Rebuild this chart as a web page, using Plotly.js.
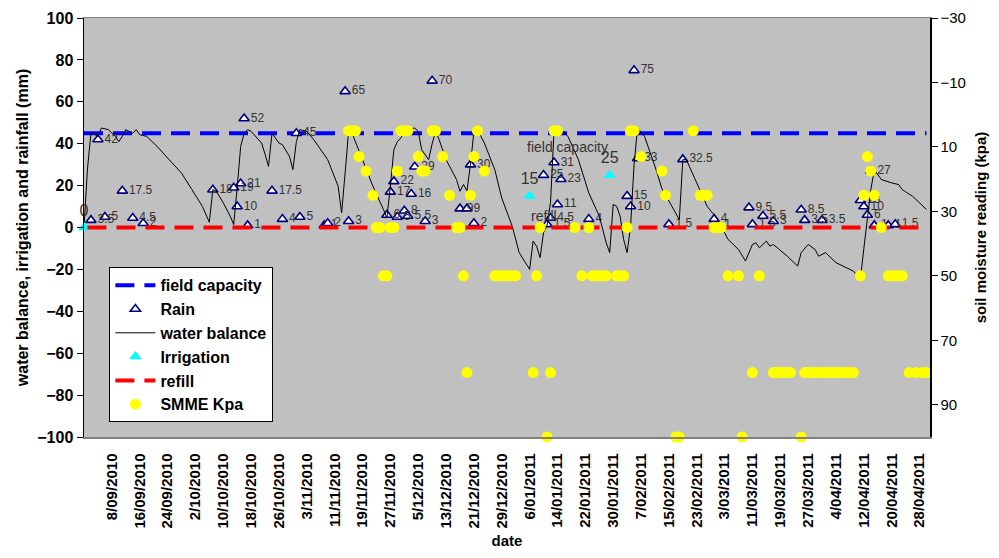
<!DOCTYPE html>
<html>
<head>
<meta charset="utf-8">
<script src="https://cdn.plot.ly/plotly-3.0.1.min.js"></script>
<style>
html,body{margin:0;padding:0;background:#fff;}
#chart{width:999px;height:558px;}
</style>
</head>
<body>
<div id="chart"></div>
<script>
// ---------- data ----------
const fieldCapacityDates = ['2010-08-31', '2011-04-30'];
const fieldCapacityValues = [45, 45];
const refillDates = ['2010-09-01', '2011-04-30'];
const refillValues = [0, 0];

const tickDates = [
  '2010-09-08','2010-09-16','2010-09-24','2010-10-02','2010-10-10','2010-10-18',
  '2010-10-26','2010-11-03','2010-11-11','2010-11-19','2010-11-27','2010-12-05',
  '2010-12-13','2010-12-21','2010-12-29','2011-01-06','2011-01-14','2011-01-22',
  '2011-01-30','2011-02-07','2011-02-15','2011-02-23','2011-03-03','2011-03-11',
  '2011-03-19','2011-03-27','2011-04-04','2011-04-12','2011-04-20','2011-04-28'
];
const tickLabels = [
  '8/09/2010','16/09/2010','24/09/2010','2/10/2010','10/10/2010','18/10/2010',
  '26/10/2010','3/11/2010','11/11/2010','19/11/2010','27/11/2010','5/12/2010',
  '13/12/2010','21/12/2010','29/12/2010','6/01/2011','14/01/2011','22/01/2011',
  '30/01/2011','7/02/2011','15/02/2011','23/02/2011','3/03/2011','11/03/2011',
  '19/03/2011','27/03/2011','4/04/2011','12/04/2011','20/04/2011','28/04/2011'
];

const rainDates = [
  '2010-09-02','2010-09-04','2010-09-06','2010-09-11','2010-09-14','2010-09-17',
  '2010-10-07','2010-10-13','2010-10-14','2010-10-15','2010-10-16','2010-10-17',
  '2010-10-24','2010-10-27','2010-10-31','2010-11-01','2010-11-08','2010-11-09',
  '2010-11-14','2010-11-15','2010-11-26','2010-11-27','2010-11-28','2010-11-29',
  '2010-12-01','2010-12-02','2010-12-03','2010-12-04','2010-12-07','2010-12-09',
  '2010-12-17','2010-12-19','2010-12-20','2010-12-21',
  '2011-01-10','2011-01-11','2011-01-12','2011-01-13','2011-01-14','2011-01-15',
  '2011-01-23','2011-02-03','2011-02-04','2011-02-05','2011-02-06','2011-02-15',
  '2011-02-19','2011-02-28','2011-03-01','2011-03-10','2011-03-11','2011-03-14',
  '2011-03-17','2011-03-25','2011-03-26','2011-03-31','2011-04-11','2011-04-12',
  '2011-04-13','2011-04-14','2011-04-15','2011-04-19','2011-04-21'
];
const rainValues = [
  3.5, 42, 5, 17.5, 4.5, 2,
  18, 19, 10, 21, 52, 1,
  17.5, 4, 45, 5, 1, 2,
  65, 3, 6, 17, 22, 5,
  8, 5.5, 16, 29, 3, 70,
  9, 9, 30, 2,
  25, 1.5, 4.5, 31, 11, 23,
  4, 15, 10, 75, 33, 1.5,
  32.5, 4, 1, 9.5, 1.5, 5.5,
  3, 8.5, 3.5, 3.5, 13, 10,
  6, 27, 1, 1, 1.5
];

const balanceDates = [
  '2010-08-31','2010-09-01','2010-09-02','2010-09-03','2010-09-04','2010-09-05','2010-09-07',
  '2010-09-09','2010-09-10','2010-09-11','2010-09-12','2010-09-13','2010-09-14','2010-09-15',
  '2010-09-16','2010-09-18','2010-09-21','2010-09-24','2010-09-28','2010-10-01','2010-10-04',
  '2010-10-06','2010-10-07','2010-10-08','2010-10-10','2010-10-12','2010-10-13','2010-10-14',
  '2010-10-15','2010-10-16','2010-10-17','2010-10-18','2010-10-21','2010-10-22','2010-10-23',
  '2010-10-24','2010-10-26','2010-10-27','2010-10-29','2010-10-30','2010-10-31','2010-11-01',
  '2010-11-03','2010-11-05','2010-11-09','2010-11-12','2010-11-13','2010-11-14','2010-11-15',
  '2010-11-16','2010-11-19','2010-11-22','2010-11-25','2010-11-26','2010-11-27','2010-11-28',
  '2010-11-29','2010-11-30','2010-12-01','2010-12-04','2010-12-05','2010-12-06','2010-12-08',
  '2010-12-09','2010-12-10','2010-12-11','2010-12-13','2010-12-16','2010-12-17','2010-12-18',
  '2010-12-19','2010-12-20','2010-12-21','2010-12-22','2010-12-24','2010-12-27','2010-12-29',
  '2011-01-01','2011-01-03','2011-01-06','2011-01-07','2011-01-08','2011-01-09','2011-01-10',
  '2011-01-11','2011-01-12','2011-01-13','2011-01-15','2011-01-17','2011-01-20','2011-01-23',
  '2011-01-26','2011-01-28','2011-01-29','2011-01-30','2011-01-31','2011-02-01','2011-02-02',
  '2011-02-03','2011-02-04','2011-02-05','2011-02-06','2011-02-08','2011-02-11','2011-02-13',
  '2011-02-16','2011-02-18','2011-02-19','2011-02-20','2011-02-23','2011-02-26','2011-03-01',
  '2011-03-03','2011-03-04','2011-03-07','2011-03-09','2011-03-11','2011-03-12','2011-03-13',
  '2011-03-15','2011-03-16','2011-03-17','2011-03-21','2011-03-24','2011-03-25','2011-03-27',
  '2011-03-29','2011-03-30','2011-04-01','2011-04-04','2011-04-09','2011-04-11','2011-04-12',
  '2011-04-13','2011-04-14','2011-04-15','2011-04-17','2011-04-20','2011-04-22','2011-04-23',
  '2011-04-26','2011-04-30'
];
const balanceValues = [
  0, 28, 45, 44.5, 43.5, 47.5, 46.7,
  43.5, 41, 43.5, 46.7, 45.9, 45, 46.7,
  44.3, 43.5, 38.7, 33.2, 26, 18.1, 10.1,
  2.5, 18.1, 17.3, 11.8, 5.4, 1.4, 19,
  38.7, 45, 46.7, 45.9, 40.3, 35, 29.2,
  45, 40.3, 39.5, 34, 27.6, 41, 46.7,
  45.9, 41.9, 32.4, 19.7, 7, 26, 45.9,
  45, 32.4, 19.7, 8.6, 4.6, 19.7, 37.1,
  41, 42.7, 45.9, 47.5, 45.9, 37.1, 32.4,
  40, 45.9, 41.9, 32.4, 22.9, 17.3, 20.5,
  17.5, 30, 45.9, 46.7, 40.3, 27.6, 14,
  0.6, -12, -20, -6.5, -8.9, -14.4, -2.5,
  1, 12, 45.9, 46.7, 43.5, 32.4, 16.5,
  5.4, -7.3, -12, 11, 10.1, 5.4, -5.7,
  -12, 0.6, 30, 47.5, 43.5, 29.2, 18.5,
  10.1, 3.8, 32.4, 32.4, 21.3, 10.1, 3.8,
  -2.5, -5.7, -10.5, -16, -8.1, -7.3, -9.7,
  -6.5, -8.9, -8.1, -13.7, -18.4, -12, -8.1,
  -10.5, -13.7, -12, -16.8, -20.8, -24.8, -10,
  3, 18, 27.6, 22.9, 21.3, 20.5, 18.1,
  14.9, 8.6
];

const irrigationDates = ['2010-08-31', '2011-01-06', '2011-01-29'];
const irrigationValues = [0, 15, 25];

const smmeDates = [
  '2010-11-15','2010-11-16','2010-11-17','2010-11-18','2010-11-20','2010-11-22','2010-11-23',
  '2010-11-24','2010-11-25','2010-11-26','2010-11-27','2010-11-28','2010-11-29','2010-11-30',
  '2010-12-01','2010-12-02','2010-12-05','2010-12-06','2010-12-07','2010-12-09','2010-12-10',
  '2010-12-12','2010-12-14','2010-12-16','2010-12-17','2010-12-18','2010-12-19','2010-12-20',
  '2010-12-21','2010-12-22','2010-12-24','2010-12-27','2010-12-28','2010-12-29','2010-12-30',
  '2010-12-31','2011-01-01','2011-01-02','2011-01-07','2011-01-08','2011-01-09','2011-01-11',
  '2011-01-12','2011-01-13','2011-01-14','2011-01-19','2011-01-21','2011-01-23','2011-01-24',
  '2011-01-25','2011-01-26','2011-01-27','2011-01-28','2011-01-31','2011-02-01','2011-02-02',
  '2011-02-03','2011-02-04','2011-02-05','2011-02-07','2011-02-13','2011-02-14','2011-02-17',
  '2011-02-18','2011-02-22','2011-02-24','2011-02-25','2011-02-26','2011-02-28','2011-03-01',
  '2011-03-02','2011-03-04','2011-03-07','2011-03-08','2011-03-11','2011-03-13','2011-03-17',
  '2011-03-18','2011-03-19','2011-03-20','2011-03-21','2011-03-22','2011-03-25','2011-03-26',
  '2011-03-27','2011-03-28','2011-03-29','2011-03-30','2011-03-31','2011-04-01','2011-04-02',
  '2011-04-03','2011-04-04','2011-04-05','2011-04-06','2011-04-07','2011-04-08','2011-04-09',
  '2011-04-11','2011-04-12','2011-04-13','2011-04-14','2011-04-15','2011-04-17','2011-04-19',
  '2011-04-20','2011-04-21','2011-04-22','2011-04-23','2011-04-25','2011-04-27','2011-04-29',
  '2011-04-30'
];
const smmeKpa = [
  5, 5, 5, 13, 17.5, 25, 35,
  35, 50, 50, 35, 35, 17.5, 5,
  5, 5, 13, 17.5, 17.5, 5, 5,
  13, 25, 35, 35, 50, 80, 25,
  13, 5, 17.5, 50, 50, 50, 50,
  50, 50, 50, 80, 50, 35, 100,
  80, 5, 5, 35, 50, 35, 50,
  50, 50, 50, 50, 50, 50, 50,
  35, 5, 5, 13, 17.5, 25, 100,
  100, 5, 25, 25, 25, 35, 35,
  35, 50, 50, 100, 80, 50, 80,
  80, 80, 80, 80, 80, 100, 80,
  80, 80, 80, 80, 80, 80, 80,
  80, 80, 80, 80, 80, 80, 80,
  50, 25, 13, 17.5, 25, 35, 50,
  50, 50, 50, 50, 80, 80, 80,
  80
];

const seriesNames = ['field capacity', 'Rain', 'water balance', 'Irrigation', 'refill', 'SMME Kpa'];
const noteTexts = ['field capacity', 'refill'];
const noteDates = ['2011-01-17', '2011-01-10'];
const noteValues = [38.5, 5.5];

const leftTicks = [-100, -80, -60, -40, -20, 0, 20, 40, 60, 80, 100];
const rightTicks = [-30, -10, 10, 30, 50, 70, 90];

// ---------- chart ----------
const FONT = 'Liberation Sans, Arial, sans-serif';

const traces = [
  {
    name: seriesNames[0], x: fieldCapacityDates, y: fieldCapacityValues,
    mode: 'lines', line: {color: '#0000FF', width: 4, dash: '19px,10px'}
  },
  {
    name: seriesNames[1], x: rainDates, y: rainValues,
    mode: 'markers+text', text: rainValues.map(String), textposition: 'middle right',
    textfont: {family: FONT, size: 12, color: '#333333'},
    marker: {symbol: 'triangle-up', size: 9, color: '#FFFFFF', line: {color: '#000080', width: 1.6}},
    cliponaxis: false
  },
  {
    name: seriesNames[2], x: balanceDates, y: balanceValues,
    mode: 'lines', line: {color: '#000000', width: 1}
  },
  {
    name: seriesNames[3], x: irrigationDates, y: irrigationValues,
    mode: 'markers+text', text: irrigationValues.map(String), textposition: 'top center',
    textfont: {family: FONT, size: 16, color: '#333333'},
    marker: {symbol: 'triangle-up', size: 11, color: '#00FFFF'},
    cliponaxis: false
  },
  {
    name: seriesNames[4], x: refillDates, y: refillValues,
    mode: 'lines', line: {color: '#FF0000', width: 4, dash: '19px,10px'}
  },
  {
    name: seriesNames[5], x: smmeDates, y: smmeKpa, yaxis: 'y2',
    mode: 'markers', marker: {symbol: 'circle', size: 11, color: '#FFFF00'},
    cliponaxis: false
  }
];

const annotations = noteTexts.map((t, i) => ({
  text: t, x: noteDates[i], y: noteValues[i], xref: 'x', yref: 'y',
  showarrow: false, font: {family: FONT, size: 14, color: '#333333'}
}));

const layout = {
  width: 999, height: 558,
  margin: {l: 84, r: 69, t: 18, b: 121},
  paper_bgcolor: '#FFFFFF',
  plot_bgcolor: '#C0C0C0',
  showlegend: true,
  legend: {
    x: 0.03, y: 0.405, xanchor: 'left', yanchor: 'top',
    bgcolor: '#FFFFFF', bordercolor: '#000000', borderwidth: 1,
    font: {family: FONT, size: 16, color: '#000000', weight: 'bold'},
    itemwidth: 40,
    traceorder: 'normal', tracegroupgap: 0
  },
  annotations: annotations,
  xaxis: {
    type: 'date',
    range: ['2010-08-31', '2011-05-01'],
    tickmode: 'array', tickvals: tickDates, ticktext: tickLabels,
    tickangle: -90,
    tickfont: {family: FONT, size: 15, color: '#000000', weight: 'bold'},
    ticks: '', ticklabelstandoff: 9,
    showgrid: false, zeroline: false,
    showline: true, linecolor: '#808080', linewidth: 1.5, mirror: true,
    title: {text: 'date', font: {family: FONT, size: 15, color: '#000000', weight: 'bold'}, standoff: 8}
  },
  yaxis: {
    range: [-100, 100],
    tickvals: leftTicks,
    tickfont: {family: FONT, size: 16, color: '#000000', weight: 'bold'},
    ticks: 'outside', ticklen: 6, tickcolor: '#000000',
    showgrid: false, zeroline: false,
    showline: true, linecolor: '#000000', linewidth: 1.5,
    title: {text: 'water balance, irrigation and rainfall (mm)',
            font: {family: FONT, size: 16, color: '#000000', weight: 'bold'}, standoff: 4}
  },
  yaxis2: {
    overlaying: 'y', side: 'right',
    range: [100, -30],
    tickvals: rightTicks,
    tickfont: {family: FONT, size: 15, color: '#000000'},
    ticks: 'outside', ticklen: 6, tickcolor: '#000000',
    showgrid: false, zeroline: false,
    showline: true, linecolor: '#000000', linewidth: 1.5,
    title: {text: 'soil moisture reading (kpa)',
            font: {family: FONT, size: 15, color: '#000000', weight: 'bold'}, standoff: 10}
  }
};

Plotly.newPlot('chart', traces, layout, {displayModeBar: false, staticPlot: true});
</script>
</body>
</html>
